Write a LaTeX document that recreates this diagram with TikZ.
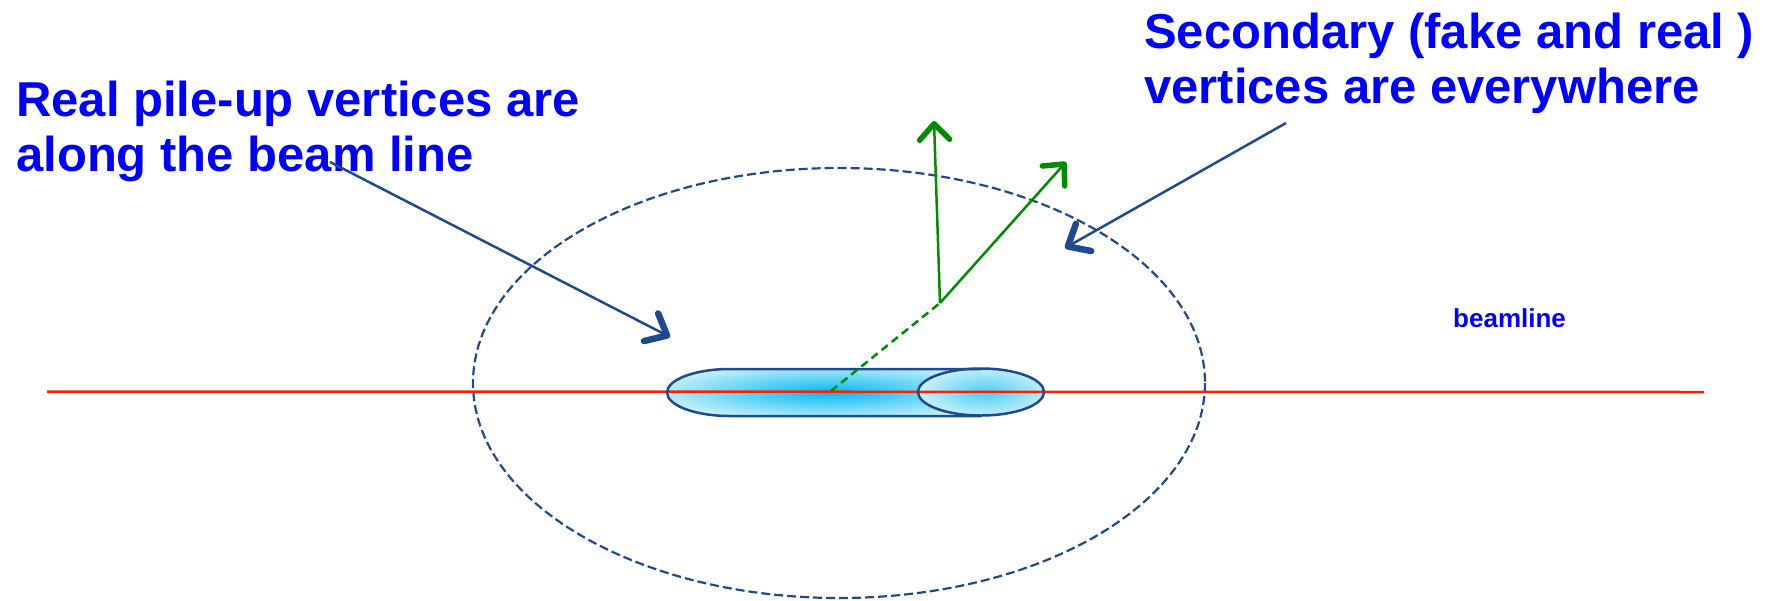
\documentclass[tikz,border=0pt]{standalone}
\usepackage{fontspec}
\setmainfont{Liberation Sans}
\usetikzlibrary{arrows.meta}
\definecolor{txtblue}{RGB}{0,0,255}
\definecolor{lineblue}{RGB}{31,74,145}
\definecolor{grn}{RGB}{0,140,0}
\definecolor{beamred}{RGB}{255,30,0}
\definecolor{glow}{RGB}{0,185,240}
\tikzset{
  bigtext/.style={font=\bfseries\fontsize{49}{55}\selectfont, text=txtblue, align=left, inner sep=0pt},
  smalltext/.style={font=\bfseries\fontsize{26}{30}\selectfont, text=txtblue, inner sep=0pt},
  bluearrow/.style={draw=lineblue, line width=2.5pt, -{Straight Barb[length=18pt,width=31pt,line width=6.5pt,round]}},
  greenarrow/.style={draw=grn, line width=2.5pt, -{Straight Barb[length=16pt,width=30pt,line width=5.5pt,round]}},
  greendash/.style={draw=grn, line width=2.5pt, dash pattern=on 8pt off 5pt},
  region/.style={draw=lineblue, line width=2.2pt, dash pattern=on 9pt off 4pt},
  beam/.style={draw=beamred, line width=2.5pt},
  tube/.style={draw=lineblue, line width=2.5pt},
}
\begin{document}
\begin{tikzpicture}[x=1pt,y=-1pt]
\useasboundingbox (0,0) rectangle (1769,600);
% dashed region
\draw[region] (839,383) ellipse (366 and 215);
% cylinder body with glow
\path[path picture={
   \shade[inner color=glow, outer color=white] (830,392) ellipse (230 and 36);
 }] (730,369) -- (981,369) arc[start angle=-90,end angle=90,x radius=63,y radius=23.5] -- (730,416) arc[start angle=90,end angle=270,x radius=63,y radius=23.5] -- cycle;
\path[path picture={
   \shade[inner color=glow!70, outer color=white] (985,392) ellipse (95 and 36);
 }] (981,392) ellipse (63 and 23.5);
% beam line
\coordinate (bl) at (47,391.5);
\coordinate (br) at (1704,392);
\draw[beam] (bl) -- (br);
% cylinder outline
\draw[tube] (730,369) -- (981,369) (730,416) -- (981,416)
  (730,416) arc[start angle=90,end angle=270,x radius=63,y radius=23.5];
\draw[tube] (981,392) ellipse (63 and 23.5);
% tracks
\coordinate (pv) at (831,391);
\coordinate (sv) at (940,303);
\coordinate (t1) at (934,121);
\coordinate (t2) at (1066,162);
\draw[greendash] (pv) -- (sv);
\draw[greenarrow] (sv) -- (t1);
\draw[greenarrow] (sv) -- (t2);
% texts
\node[bigtext, anchor=base west] (real) at (16,171) {Real pile-up vertices are\\along the beam line};
\node[bigtext, anchor=base west] (sec) at (1144,103) {Secondary (fake and real )\\vertices are everywhere};
\node[smalltext, anchor=base west] (beamlbl) at (1453,327) {beamline};
% pointer arrows
\coordinate (a1s) at (330,162);
\coordinate (a1e) at (670,337);
\coordinate (a2s) at (1286,123);
\coordinate (a2e) at (1065,248);
\draw[bluearrow] (a1s) -- (a1e);
\draw[bluearrow] (a2s) -- (a2e);
\end{tikzpicture}
\end{document}
